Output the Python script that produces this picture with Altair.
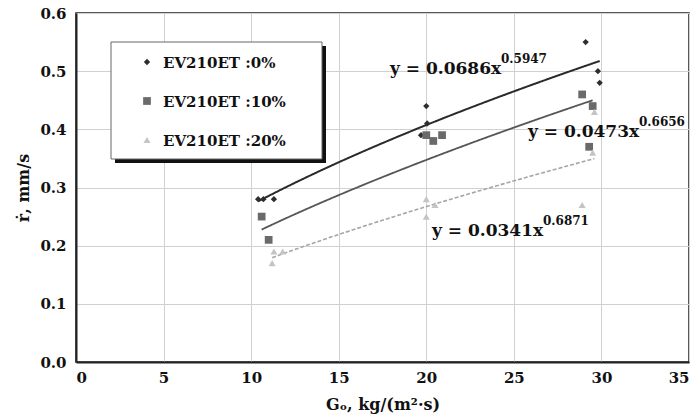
import altair as alt
import pandas as pd

# ---- data ----
series = ["EV210ET :0%", "EV210ET :10%", "EV210ET :20%"]
go_0 = [10.4, 10.7, 11.3, 19.7, 20.0, 20.05, 29.1, 29.8, 29.9]
r_0 = [0.28, 0.28, 0.28, 0.39, 0.44, 0.41, 0.55, 0.50, 0.48]
go_10 = [10.6, 11.0, 20.0, 20.4, 20.9, 28.9, 29.3, 29.5]
r_10 = [0.25, 0.21, 0.39, 0.38, 0.39, 0.46, 0.37, 0.44]
go_20 = [11.2, 11.3, 11.8, 20.0, 20.0, 20.5, 28.9, 29.5, 29.6]
r_20 = [0.17, 0.19, 0.19, 0.28, 0.25, 0.27, 0.27, 0.36, 0.43]
# printed power-law trendlines y = a * x^b
coef_a = [0.0686, 0.0473, 0.0341]
coef_b = [0.5947, 0.6656, 0.6871]
eq_main = ["y = 0.0686x", "y = 0.0473x", "y = 0.0341x"]
eq_exp = ["0.5947", "0.6656", "0.6871"]
x_ticks = [0, 5, 10, 15, 20, 25, 30, 35]
y_ticks = [0.0, 0.1, 0.2, 0.3, 0.4, 0.5, 0.6]

# ---- styles ----
FONT = "DejaVu Serif"
shapes = ["diamond", "square", "triangle-up"]
marker_colors = ["#2e2e2e", "#6a6a6a", "#c4c4c4"]
marker_sizes = [40, 60, 50]
line_colors = ["#2a2a2a", "#555555", "#a6a6a6"]
line_widths = [2.0, 1.8, 1.6]
line_dashes = [[1, 0], [1, 0], [4, 2]]

xs_all = [go_0, go_10, go_20]
ys_all = [r_0, r_10, r_20]

xscale = alt.Scale(domain=[0, 35], nice=False, zero=False)
yscale = alt.Scale(domain=[0, 0.6], nice=False)
xaxis = alt.Axis(values=x_ticks, title="Gₒ, kg/(m²·s)", grid=True)
yaxis = alt.Axis(values=y_ticks, title="ṙ, mm/s", grid=True, format=".1f")
X = alt.X("go:Q", scale=xscale, axis=xaxis)
Y = alt.Y("r:Q", scale=yscale, axis=yaxis)

layers = []

# trendlines
for i, s in enumerate(series):
    fdf = pd.DataFrame({"series": [s], "a": [coef_a[i]], "b": [coef_b[i]],
                        "xmin": [min(xs_all[i])], "xmax": [max(xs_all[i])]})
    line = (alt.Chart(fdf)
            .transform_calculate(t="sequence(0, 1.0001, 0.02)")
            .transform_flatten(["t"])
            .transform_calculate(go="datum.xmin + datum.t*(datum.xmax-datum.xmin)")
            .transform_calculate(r="datum.a*pow(datum.go, datum.b)")
            .mark_line(color=line_colors[i], strokeWidth=line_widths[i],
                       strokeDash=line_dashes[i])
            .encode(x=X, y=Y, order="t:Q"))
    layers.append(line)

# points
for i, s in enumerate(series):
    pdf = pd.DataFrame({"go": xs_all[i], "r": ys_all[i], "series": s})
    pts = (alt.Chart(pdf)
           .mark_point(shape=shapes[i], filled=True, size=marker_sizes[i],
                       color=marker_colors[i], opacity=1)
           .encode(x=X, y=Y))
    layers.append(pts)

# legend box (manual, with shadow)
one = pd.DataFrame({"k": [0]})
shadow = alt.Chart(one).mark_rect(color="#111111").encode(
    x=alt.value(39), x2=alt.value(250), y=alt.value(33), y2=alt.value(150))
box = alt.Chart(one).mark_rect(color="white", stroke="#666666", strokeWidth=1).encode(
    x=alt.value(35), x2=alt.value(246), y=alt.value(29), y2=alt.value(146))
layers += [shadow, box]
for i, s in enumerate(series):
    ldf = pd.DataFrame({"series": [s]})
    sym = alt.Chart(ldf).mark_point(shape=shapes[i], filled=True, size=marker_sizes[i],
                                    color=marker_colors[i], opacity=1).encode(
        x=alt.value(71), y=alt.value(49 + 39 * i))
    txt = alt.Chart(ldf).mark_text(align="left", baseline="middle", font=FONT,
                                   fontWeight="bold", fontSize=15, color="#111111").encode(
        x=alt.value(87), y=alt.value(50 + 39 * i), text="series:N")
    layers += [sym, txt]

# equation annotations
eq_pos = [(314, 56), (452, 119), (356, 218)]
for i in range(3):
    edf = pd.DataFrame({"m": [eq_main[i]], "e": [eq_exp[i]]})
    x0, y0 = eq_pos[i]
    main = alt.Chart(edf).mark_text(align="left", baseline="middle", font=FONT,
                                    fontWeight="bold", fontSize=17, color="#111111").encode(
        x=alt.value(x0), y=alt.value(y0), text="m:N")
    sup = alt.Chart(edf).mark_text(align="left", baseline="middle", font=FONT,
                                   fontWeight="bold", fontSize=12, color="#111111").encode(
        x=alt.value(x0 + 111), y=alt.value(y0 - 10), text="e:N")
    layers += [main, sup]

chart = (alt.layer(*layers)
         .properties(width=613, height=349,
                     autosize=alt.AutoSizeParams(type="none"),
                     padding={"left": 76, "top": 13, "right": 11, "bottom": 56})
         .configure_view(stroke="#222222", strokeWidth=1.5)
         .configure_axis(labelFont=FONT, labelFontWeight="bold", labelFontSize=15,
                         labelColor="#111111", titleFont=FONT, titleFontWeight="bold",
                         titleFontSize=16, titleColor="#111111", gridColor="#d0d0d0",
                         gridWidth=1, domainColor="#222222", domainWidth=2,
                         tickSize=0)
         .configure_axisX(labelPadding=8, titlePadding=11)
         .configure_axisY(labelPadding=10, titlePadding=8)
         )

chart.save("out.html", embed_options={"renderer": "svg", "actions": False})
